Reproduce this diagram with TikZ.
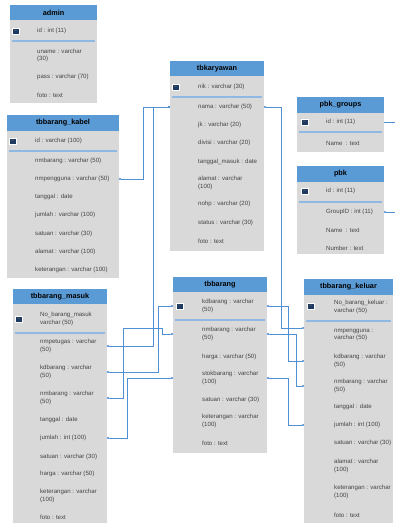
\documentclass[tikz,border=0pt]{standalone}
\usepackage{fontspec}
\setmainfont{Liberation Sans}
\usetikzlibrary{arrows.meta}
\definecolor{hdrblue}{HTML}{5B9BD5}
\definecolor{bodygray}{HTML}{D9D9D9}
\definecolor{lineblue}{HTML}{4F8FD4}
\definecolor{sepblue}{HTML}{8FB8E2}
\definecolor{pknavy}{HTML}{1F3A60}
\definecolor{txtgray}{HTML}{444444}
\tikzset{
  hdr/.style={fill=hdrblue, draw=none, inner sep=0pt, outer sep=0pt, anchor=north west,
    font=\bfseries\fontsize{7.3}{8.5}\selectfont, text=black},
  bodyr/.style={fill=bodygray, draw=none, inner sep=0pt, outer sep=0pt, anchor=north west},
  rowtxt/.style={anchor=west, font=\fontsize{6.1}{7.6}\selectfont, text=txtgray, inner sep=0pt, align=left},
  sepline/.style={draw=sepblue, line width=1.1pt},
  pkbox/.style={fill=pknavy, draw=white, line width=0.6pt, minimum width=7pt, minimum height=6pt,
    inner sep=0pt, font=\bfseries\fontsize{2}{2.4}\selectfont, text=black!60},
  conn/.style={draw=lineblue, line width=0.8pt, {Circle[length=2pt]}-{Circle[length=2pt]}},
}
\begin{document}
\begin{tikzpicture}[x=1pt,y=1pt]
\useasboundingbox (0,0) rectangle (395,-523);
\fill[white] (0,0) rectangle (395,-523);

% ---------------- admin ----------------
\node[hdr, minimum width=87, minimum height=15] (adminh) at (10,-5) {admin};
\node[bodyr, minimum width=87, minimum height=83] (admin) at (10,-20) {};
\node[pkbox] (a-pk) at (15.5,-31) {PK};
\node[rowtxt] (a-id) at (37,-31) {id : int (11)};
\draw[sepline] (12,-41) -- (95,-41);
\node[rowtxt] (a-un) at (37,-55.5) {uname : varchar\\(30)};
\node[rowtxt] (a-ps) at (37,-77) {pass : varchar (70)};
\node[rowtxt] (a-ft) at (37,-95) {foto : text};

% ---------------- tbbarang_kabel ----------------
\node[hdr, minimum width=112, minimum height=16] (kabelh) at (7,-115) {tbbarang\_kabel};
\node[bodyr, minimum width=112, minimum height=147] (kabel) at (7,-131) {};
\node[pkbox] (kb-pk) at (13,-141) {PK};
\node[rowtxt] (kb-id) at (35,-141) {id : varchar (100)};
\draw[sepline] (9,-151) -- (117,-151);
\node[rowtxt] (kb-nmb) at (35,-161) {nmbarang : varchar (50)};
\node[rowtxt] (kb-nmp) at (35,-179) {nmpengguna : varchar (50)};
\node[rowtxt] (kb-tgl) at (35,-197) {tanggal : date};
\node[rowtxt] (kb-jml) at (35,-215) {jumlah : varchar (100)};
\node[rowtxt] (kb-sat) at (35,-234) {satuan : varchar (30)};
\node[rowtxt] (kb-alm) at (35,-252) {alamat : varchar (100)};
\node[rowtxt] (kb-ket) at (35,-270) {keterangan : varchar (100)};

% ---------------- tbkaryawan ----------------
\node[hdr, minimum width=94, minimum height=15] (karh) at (170,-61) {tbkaryawan};
\node[bodyr, minimum width=94, minimum height=175] (kar) at (170,-76) {};
\node[pkbox] (k-pk) at (175.5,-87) {PK};
\node[rowtxt] (k-nik) at (198,-87) {nik : varchar (30)};
\draw[sepline] (172,-97) -- (262,-97);
\node[rowtxt] (k-nama) at (198,-107) {nama : varchar (50)};
\node[rowtxt] (k-jk) at (198,-125) {jk : varchar (20)};
\node[rowtxt] (k-div) at (198,-143) {divisi : varchar (20)};
\node[rowtxt] (k-tgl) at (198,-162) {tanggal\_masuk : date};
\node[rowtxt] (k-alm) at (198,-183) {alamat : varchar\\(100)};
\node[rowtxt] (k-hp) at (198,-204) {nohp : varchar (20)};
\node[rowtxt] (k-st) at (198,-223) {status : varchar (30)};
\node[rowtxt] (k-ft) at (198,-241) {foto : text};

% ---------------- pbk_groups ----------------
\node[hdr, minimum width=87, minimum height=16] (pbgh) at (297,-97) {pbk\_groups};
\node[bodyr, minimum width=87, minimum height=39] (pbg) at (297,-113) {};
\node[pkbox] (pg-pk) at (304.5,-122) {PK};
\node[rowtxt] (pg-id) at (326,-122) {id : int (11)};
\draw[sepline] (299,-132) -- (382,-132);
\node[rowtxt] (pg-nm) at (326,-143) {Name~ : text};

% ---------------- pbk ----------------
\node[hdr, minimum width=87, minimum height=16] (pbkh) at (297,-166) {pbk};
\node[bodyr, minimum width=87, minimum height=72] (pbk) at (297,-182) {};
\node[pkbox] (p-pk) at (304.5,-191) {PK};
\node[rowtxt] (p-id) at (326,-191) {id : int (11)};
\draw[sepline] (299,-202) -- (382,-202);
\node[rowtxt] (p-gid) at (326,-212) {GroupID : int (11)};
\node[rowtxt] (p-nm) at (326,-230) {Name~ : text};
\node[rowtxt] (p-num) at (326,-248) {Number : text};

% ---------------- tbbarang_masuk ----------------
\node[hdr, minimum width=94, minimum height=15] (masukh) at (13,-289) {tbbarang\_masuk};
\node[bodyr, minimum width=94, minimum height=235] (masuk) at (13,-304) {};
\node[pkbox] (m-pk) at (19,-319) {PK};
\node[rowtxt] (m-no) at (40,-319) {No\_barang\_masuk\\varchar (50)};
\draw[sepline] (15,-333) -- (105,-333);
\node[rowtxt] (m-nmp) at (40,-346) {nmpetugas : varchar\\(50)};
\node[rowtxt] (m-kd) at (40,-372) {kdbarang : varchar\\(50)};
\node[rowtxt] (m-nm) at (40,-398) {nmbarang : varchar\\(50)};
\node[rowtxt] (m-tgl) at (40,-420) {tanggal : date};
\node[rowtxt] (m-jml) at (40,-438) {jumlah : int (100)};
\node[rowtxt] (m-sat) at (40,-457) {satuan : varchar (30)};
\node[rowtxt] (m-hrg) at (40,-474) {harga : varchar (50)};
\node[rowtxt] (m-ket) at (40,-496) {keterangan : varchar\\(100)};
\node[rowtxt] (m-ft) at (40,-517) {foto : text};

% ---------------- tbbarang ----------------
\node[hdr, minimum width=94, minimum height=15] (brgh) at (173,-277) {tbbarang};
\node[bodyr, minimum width=94, minimum height=161] (brg) at (173,-292) {};
\node[pkbox] (b-pk) at (179.5,-306) {PK};
\node[rowtxt] (b-kd) at (202,-306) {kdbarang : varchar\\(50)};
\draw[sepline] (175,-320) -- (265,-320);
\node[rowtxt] (b-nm) at (202,-334) {nmbarang : varchar\\(50)};
\node[rowtxt] (b-hrg) at (202,-357) {harga : varchar (50)};
\node[rowtxt] (b-stok) at (202,-378) {stokbarang : varchar\\(100)};
\node[rowtxt] (b-sat) at (202,-400) {satuan : varchar (30)};
\node[rowtxt] (b-ket) at (202,-421) {keterangan : varchar\\(100)};
\node[rowtxt] (b-ft) at (202,-443) {foto : text};

% ---------------- tbbarang_keluar ----------------
\node[hdr, minimum width=89, minimum height=16] (kelh) at (304,-279) {tbbarang\_keluar};
\node[bodyr, minimum width=89, minimum height=235] (kel) at (304,-295) {};
\node[pkbox] (kl-pk) at (311,-306) {PK};
\node[rowtxt] (kl-no) at (334,-307) {No\_barang\_keluar :\\varchar (50)};
\draw[sepline] (306,-321) -- (391,-321);
\node[rowtxt] (kl-nmp) at (334,-335) {nmpengguna :\\varchar (50)};
\node[rowtxt] (kl-kd) at (334,-361) {kdbarang : varchar\\(50)};
\node[rowtxt] (kl-nm) at (334,-386) {nmbarang : varchar\\(50)};
\node[rowtxt] (kl-tgl) at (334,-407) {tanggal : date};
\node[rowtxt] (kl-jml) at (334,-425) {jumlah : int (100)};
\node[rowtxt] (kl-sat) at (334,-443) {satuan : varchar (30)};
\node[rowtxt] (kl-alm) at (334,-466) {alamat : varchar\\(100)};
\node[rowtxt] (kl-ket) at (334,-492) {keterangan : varchar\\(100)};
\node[rowtxt] (kl-ft) at (334,-515) {foto : text};

% ---------------- connectors ----------------
\coordinate (edgeJ) at (395,-122);
\coordinate (edgeK) at (395,-212);
% A: masuk.nmpetugas -> tbkaryawan.nama
\draw[conn] (masuk.east |- m-nmp.west) -- ++(46,0) |- (kar.west |- k-nama.west);
% B: kabel.nmpengguna -> tbkaryawan.nama
\draw[conn] (kabel.east |- kb-nmp.west) -- ++(24,0) |- (kar.west |- k-nama.west);
% C: masuk.kdbarang -> tbbarang.kdbarang
\draw[conn] (masuk.east |- m-kd.west) -- ++(51,0) |- (brg.west |- b-kd.west);
% D: masuk.nmbarang -> tbbarang.nmbarang
\draw[conn] (masuk.east |- m-nm.west) -- ++(16,0) -- ++(0,70) -- ++(39,0) |- (brg.west |- b-nm.west);
% E: masuk.jumlah -> tbbarang.stokbarang
\draw[conn] (masuk.east |- m-jml.west) -- ++(20,0) |- (brg.west |- b-stok.west);
% F: tbkaryawan.nama -> keluar.nmpengguna
\draw[conn] (kar.east |- k-nama.west) -- ++(17,0) |- ([yshift=7pt]kel.west |- kl-nmp.west);
% G: tbbarang.kdbarang -> keluar.kdbarang
\draw[conn] (brg.east |- b-kd.west) -- ++(21,0) |- (kel.west |- kl-kd.west);
% H: tbbarang.nmbarang -> keluar.nmbarang
\draw[conn] (brg.east |- b-nm.west) -- ++(29,0) |- (kel.west |- kl-nm.west);
% I: tbbarang.stokbarang -> keluar.jumlah
\draw[conn] (brg.east |- b-stok.west) -- ++(21,0) |- (kel.west |- kl-jml.west);
% J, K: pbk links leaving the picture
\draw[conn, -] (pbg.east |- pg-id.west) -- (edgeJ);
\draw[conn, {Circle[length=2pt]}-] (pbk.east |- p-gid.west) -- (edgeK);
\end{tikzpicture}
\end{document}
